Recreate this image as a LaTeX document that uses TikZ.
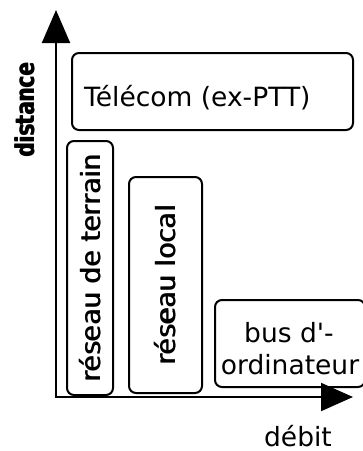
\documentclass[tikz,border=0pt]{standalone}
\usepackage{graphicx}
\usepackage{fontspec}
\setmainfont{DejaVu Sans}[Ligatures=TeXOff]
\usetikzlibrary{arrows.meta}

% heavy text: the same line set twice, slightly offset
\newcommand{\heavy}[2][1.1pt]{\makebox[0pt][l]{#2}\kern#1#2}

\tikzset{
  pane/.style={draw, line width=2pt, rounded corners=7pt, inner sep=0pt},
  axisline/.style={line width=2pt,
    {Triangle[width=28pt,length=33pt]}-{Triangle[width=28pt,length=32pt]}},
  bigtext/.style={font=\fontsize{26.5}{32}\selectfont, inner sep=0pt},
}

\begin{document}
\begin{tikzpicture}[x=1pt,y=-1pt]
  \useasboundingbox (0,0) rectangle (363,451);
  \clip (0,0) rectangle (363,451);

  % axes
  \coordinate (O) at (56,397);
  \coordinate (ytip) at (56,10);
  \coordinate (xtip) at (353,397);
  \draw[axisline] (ytip) -- (O) -- (xtip);

  % axis labels
  \node[bigtext, font=\bfseries\fontsize{26}{30}\selectfont, rotate=90] (dist) at (25,110)
        {\scalebox{0.76}[1]{\heavy[1.2pt]{distance}}};
  \node[bigtext, anchor=base] (deb) at (298,446) {débit};

  % network categories
  \node[pane, minimum width=281pt, minimum height=77pt] (tel) at (212.5,91.5) {};
  \node[bigtext, anchor=base west] (teltxt) at (84,106) {Télécom (ex-PTT)};

  \node[pane, bigtext, rotate=90, minimum width=254pt, minimum height=46pt]
        (terr) at (90,268) {\heavy{réseau de terrain}};
  \node[pane, bigtext, rotate=90, minimum width=216pt, minimum height=73pt]
        (loc) at (165.5,285) {\heavy{réseau local}};

  \node[pane, minimum width=150pt, minimum height=87pt] (bus) at (290,343.5) {};
  \node[bigtext, anchor=base] (bus1) at (289,342) {bus d'-};
  \node[bigtext, anchor=base] (bus2) at (290,374) {ordinateur};
\end{tikzpicture}
\end{document}
